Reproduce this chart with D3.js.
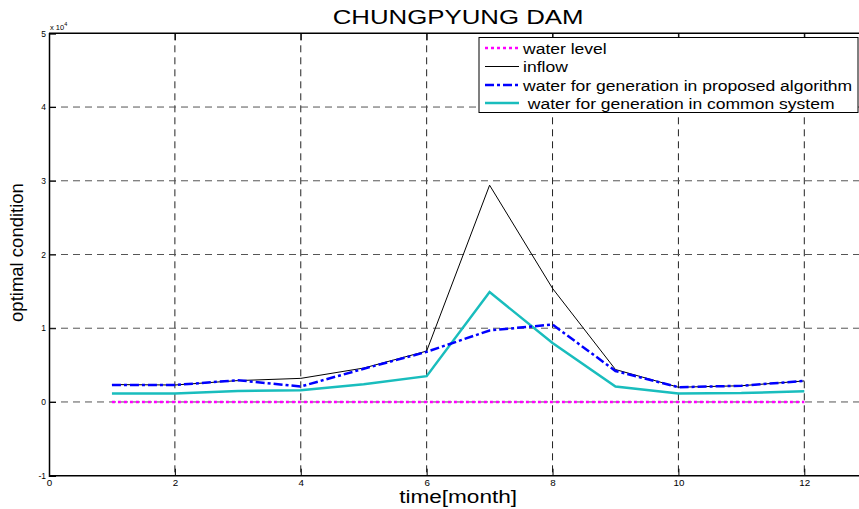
<!DOCTYPE html>
<html>
<head>
<meta charset="utf-8">
<script src="https://cdn.jsdelivr.net/npm/d3@7"></script>
<style>
  html, body { margin: 0; padding: 0; background: #fff; }
  svg { display: block; font-family: "Liberation Sans", Arial, sans-serif; }
</style>
</head>
<body>
<svg id="chart" width="859" height="509"></svg>
<script>
// Monthly operating data for Chungpyung Dam (values in m^3, axis shown x 10^4)
const months = [1, 2, 3, 4, 5, 6, 7, 8, 9, 10, 11, 12];
const waterLevel = [0, 0, 0, 0, 0, 0, 0, 0, 0, 0, 0, 0];
const inflow = [2360, 2300, 2900, 3200, 4600, 6900, 29400, 15400, 4400, 2000, 2200, 2850];
const proposed = [2300, 2300, 2950, 2100, 4500, 6800, 9700, 10500, 4200, 2000, 2200, 2850];
const common = [1140, 1140, 1500, 1600, 2400, 3500, 14900, 8000, 2100, 1140, 1200, 1450];
const xTicks = [0, 2, 4, 6, 8, 10, 12];
const yTicks = [-1, 0, 1, 2, 3, 4, 5];
const seriesNames = ["water level", "inflow", "water for generation in proposed algorithm", " water for generation in common system"];

const svg = d3.select("#chart");
const plotLeft = 49, plotTop = 33.3, plotBottom = 475.7;
const x = d3.scaleLinear().domain([0, 12]).range([plotLeft, 804.3]);
const y = d3.scaleLinear().domain([-1, 5]).range([plotBottom, plotTop]);
const xRight = x(13);
const xMid = (plotLeft + xRight) / 2;

// widen a text element horizontally by a factor
function widen(sel, k) {
  sel.each(function () {
    const w = this.getComputedTextLength();
    d3.select(this).attr("textLength", w * k).attr("lengthAdjust", "spacingAndGlyphs");
  });
  return sel;
}

// grid
const grid = svg.append("g").attr("stroke-width", 1).attr("stroke-dasharray", "7,5");
grid.selectAll("line.v").data(xTicks.filter(d => d > 0)).join("line")
  .attr("stroke", "#222")
  .attr("x1", d => x(d)).attr("x2", d => x(d)).attr("y1", plotTop).attr("y2", plotBottom);
grid.selectAll("line.h").data(yTicks.filter(d => d > -1 && d < 5)).join("line")
  .attr("stroke", "#555")
  .attr("x1", plotLeft).attr("x2", xRight).attr("y1", d => y(d)).attr("y2", d => y(d));

// axes frame
const fmt = d => String(d);
const yAxis = d3.axisLeft(y).tickValues(yTicks).tickSize(-7).tickPadding(3).tickFormat(fmt);
const gy = svg.append("g").attr("transform", `translate(${plotLeft},0)`).call(yAxis);
gy.select(".domain").attr("stroke", "#000").attr("stroke-width", 1.5);
gy.selectAll("text").attr("font-size", 8.5).attr("fill", "#000");

const xAxis = d3.axisBottom(x).tickValues(xTicks).tickSize(-7).tickPadding(4).tickFormat(fmt);
const gx = svg.append("g").attr("transform", `translate(0,${plotBottom})`).call(xAxis);
gx.select(".domain").remove();
gx.append("line").attr("x1", plotLeft).attr("x2", xRight).attr("stroke", "#000").attr("stroke-width", 1.5);
gx.selectAll("text").attr("font-size", 8.5).attr("fill", "#000");
widen(gx.selectAll(".tick text"), 1.15);

const xAxisTop = d3.axisTop(x).tickValues(xTicks).tickSize(-7).tickFormat("");
const gt = svg.append("g").attr("transform", `translate(0,${plotTop})`).call(xAxisTop);
gt.select(".domain").remove();
gt.append("line").attr("x1", plotLeft).attr("x2", xRight).attr("stroke", "#000").attr("stroke-width", 1.5);

// exponent label
const ex = svg.append("text").attr("x", 50).attr("y", 29.5).attr("font-size", 7.5).attr("fill", "#000");
ex.append("tspan").text("x 10");
ex.append("tspan").attr("dy", -3.5).attr("font-size", 5.5).text("4");

// series
const line = d3.line().x(d => x(d[0])).y(d => y(d[1] / 10000));
const pts = vals => months.map((m, i) => [m, vals[i]]);
const styles = [
  { data: waterLevel, color: "#ff00ff", width: 2.5, dash: "3,3" },
  { data: inflow, color: "#000", width: 1, dash: null },
  { data: proposed, color: "#0000ff", width: 2.5, dash: "9,3,3,3" },
  { data: common, color: "#19bdbd", width: 2.5, dash: null }
];
const plot = svg.append("g");
[styles[3], styles[1], styles[2], styles[0]].forEach(s => {
  plot.append("path").attr("d", line(pts(s.data))).attr("fill", "none")
    .attr("stroke", s.color).attr("stroke-width", s.width)
    .attr("stroke-dasharray", s.dash);
});

// legend
const lg = svg.append("g");
lg.append("rect").attr("x", 479).attr("y", 37.5).attr("width", 379).attr("height", 75)
  .attr("fill", "#fff").attr("stroke", "#000").attr("stroke-width", 1);
const rowBase = [53.5, 72, 90.5, 108.5];
styles.forEach((s, i) => {
  lg.append("line").attr("x1", 485).attr("x2", 519).attr("y1", rowBase[i] - 5.5).attr("y2", rowBase[i] - 5.5)
    .attr("stroke", s.color).attr("stroke-width", s.width === 1 ? 1 : 2.5)
    .attr("stroke-dasharray", s.dash);
  const t = lg.append("text").attr("x", 523).attr("y", rowBase[i]).attr("font-size", 15.5)
    .attr("fill", "#000").style("white-space", "pre").text(seriesNames[i]);
  widen(t, 1.13);
});

// titles
const title = svg.append("text").attr("x", xMid).attr("y", 24.3).attr("text-anchor", "middle")
  .attr("font-size", 20).attr("fill", "#000").text("CHUNGPYUNG DAM");
widen(title, 1.29);
const xLabel = svg.append("text").attr("x", xMid).attr("y", 503).attr("text-anchor", "middle")
  .attr("font-size", 17.5).attr("fill", "#000").text("time[month]");
widen(xLabel, 1.29);
svg.append("text").attr("transform", "translate(23.3,252.5) rotate(-90)").attr("text-anchor", "middle")
  .attr("font-size", 18.5).attr("fill", "#000").text("optimal condition");
</script>
</body>
</html>
